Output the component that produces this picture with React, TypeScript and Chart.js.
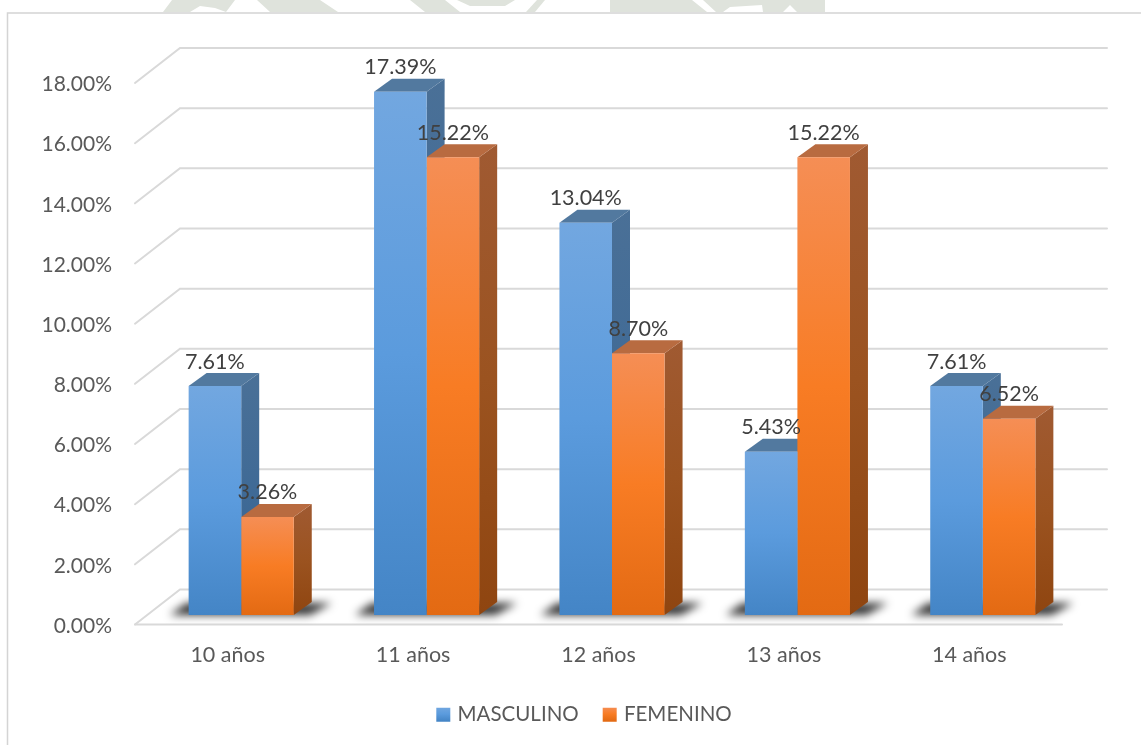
import React, { useEffect, useRef } from "react";
import { Chart, registerables } from "chart.js";

Chart.register(...registerables);

const categories = ["10 años", "11 años", "12 años", "13 años", "14 años"];
const masculino = [7.61, 17.39, 13.04, 5.43, 7.61];
const femenino = [3.26, 15.22, 8.7, 15.22, 6.52];

const FONT = "Lato, Carlito, Calibri, sans-serif";
const BAR_DX = 13.5;
const BAR_DY = -9.5;
const DEPTH_X = 18;
const DEPTH_Y = 13;
const WALL_X = 45;
const WALL_Y = 35;
const LEGEND_SHIFT = 39.5;

const frontStops: Record<string, string[]> = {
  blue: ["#72A7E0", "#5B9BDD", "#4485C6"],
  orange: ["#F58E55", "#F87C24", "#E36A13"],
};
const sideStops: Record<string, string[]> = {
  blue: ["#4A7097", "#3F6A96", "#31608F"],
  orange: ["#A05A32", "#9B5320", "#8F4510"],
};
const topColor: Record<string, string> = { blue: "#52799F", orange: "#B86B40" };

// faint scan watermark visible above the chart frame
const watermark: number[][][] = [
  [[163, 12], [172, 0], [235, 0], [226, 12], [215, 8], [200, 6], [190, 12]],
  [[257, 0], [320, 0], [338, 12], [270, 12]],
  [[410, 0], [445, 0], [460, 12], [425, 12]],
  [[457, 0], [500, 0], [515, 0], [505, 6], [470, 6]],
  [[526, 12], [537, 0], [545, 0], [535, 12]],
  [[610, 0], [692, 0], [707, 12], [610, 12]],
  [[703, 0], [825, 0], [825, 12], [797, 12], [790, 5], [783, 12], [763, 12], [762, 5], [730, 7], [723, 12], [716, 12]],
];

function grad(ctx: CanvasRenderingContext2D, y0: number, y1: number, stops: string[]) {
  const g = ctx.createLinearGradient(0, y0, 0, y1);
  g.addColorStop(0, stops[0]);
  g.addColorStop(0.5, stops[1]);
  g.addColorStop(1, stops[2]);
  return g;
}

const scene3d = {
  id: "scene3d",
  afterLayout(chart: any) {
    if (chart.legend) {
      chart.legend.left += LEGEND_SHIFT;
      chart.legend.right += LEGEND_SHIFT;
    }
  },
  beforeDatasetsDraw(chart: any) {
    const { ctx, chartArea, scales } = chart;
    const { left, right, bottom } = chartArea;
    const y = scales.y;
    ctx.save();
    ctx.strokeStyle = "#D9D9D9";
    ctx.lineWidth = 2;
    ctx.lineCap = "round";
    y.ticks.forEach((t: any) => {
      const py = y.getPixelForValue(t.value);
      ctx.beginPath();
      ctx.moveTo(left, py);
      ctx.lineTo(left + WALL_X, py - WALL_Y);
      ctx.lineTo(right + WALL_X, py - WALL_Y);
      ctx.stroke();
    });
    ctx.beginPath();
    ctx.moveTo(left, bottom);
    ctx.lineTo(right, bottom);
    ctx.stroke();
    ctx.restore();

    // floor shadows
    const m0 = chart.getDatasetMeta(0).data;
    const m1 = chart.getDatasetMeta(1).data;
    ctx.save();
    ctx.filter = "blur(4px)";
    ctx.fillStyle = "rgba(0,0,0,0.8)";
    const floor = bottom + BAR_DY;
    m0.forEach((b: any, i: number) => {
      const x0 = b.x - b.width / 2 + BAR_DX;
      const b1 = m1[i];
      const x1 = b1.x + b1.width / 2 + BAR_DX;
      ctx.beginPath();
      ctx.moveTo(x0 - 19, floor);
      ctx.lineTo(x0 - 2, floor - 12);
      ctx.lineTo(x1 + 38, floor - 12);
      ctx.lineTo(x1 + 16, floor);
      ctx.closePath();
      ctx.fill();
    });
    ctx.restore();

    // side and top faces
    ctx.save();
    ctx.translate(BAR_DX, BAR_DY);
    [
      { meta: m0, key: "blue" },
      { meta: m1, key: "orange" },
    ].forEach(({ meta, key }) => {
      meta.forEach((b: any) => {
        const l = b.x - b.width / 2;
        const r = b.x + b.width / 2;
        const t = b.y;
        const base = b.base;
        ctx.fillStyle = grad(ctx, t - DEPTH_Y, base, sideStops[key]);
        ctx.beginPath();
        ctx.moveTo(r, t);
        ctx.lineTo(r + DEPTH_X, t - DEPTH_Y);
        ctx.lineTo(r + DEPTH_X, base - DEPTH_Y);
        ctx.lineTo(r, base);
        ctx.closePath();
        ctx.fill();
        ctx.fillStyle = topColor[key];
        ctx.beginPath();
        ctx.moveTo(l, t);
        ctx.lineTo(l + DEPTH_X, t - DEPTH_Y);
        ctx.lineTo(r + DEPTH_X, t - DEPTH_Y);
        ctx.lineTo(r, t);
        ctx.closePath();
        ctx.fill();
      });
    });
    ctx.restore();
    ctx.save();
    ctx.translate(BAR_DX, BAR_DY);
  },
  afterDatasetsDraw(chart: any) {
    const { ctx } = chart;
    ctx.restore();
    ctx.save();
    ctx.font = `21.5px ${FONT}`;
    ctx.fillStyle = "#404040";
    ctx.textAlign = "center";
    ctx.textBaseline = "middle";
    chart.data.datasets.forEach((ds: any, di: number) => {
      chart.getDatasetMeta(di).data.forEach((b: any, i: number) => {
        ctx.fillText(`${ds.data[i].toFixed(2)}%`, b.x + BAR_DX, b.y + BAR_DY - 24.5);
      });
    });
    ctx.restore();
  },
};

const frame = {
  id: "frame",
  beforeDraw(chart: any) {
    const { ctx } = chart;
    ctx.save();
    ctx.fillStyle = "#DFE3DC";
    watermark.forEach((poly) => {
      ctx.beginPath();
      poly.forEach(([x, y], i) => (i ? ctx.lineTo(x, y) : ctx.moveTo(x, y)));
      ctx.closePath();
      ctx.fill();
    });
    ctx.strokeStyle = "#D4D4D4";
    ctx.lineWidth = 1.5;
    ctx.beginPath();
    ctx.moveTo(7.5, 745);
    ctx.lineTo(7.5, 13);
    ctx.lineTo(1141, 13);
    ctx.stroke();
    ctx.restore();
  },
};

export default function App() {
  const ref = useRef<HTMLCanvasElement>(null);
  useEffect(() => {
    document.body.style.margin = "0";
    const canvas = ref.current!;
    const ctx2 = canvas.getContext("2d")!;
    const barFill = (key: string) => (c: any) => {
      const ys = c.chart.scales.y;
      if (!ys || c.dataIndex === undefined || c.parsed === undefined) return frontStops[key][1];
      const v = c.parsed.y;
      return grad(ctx2, ys.getPixelForValue(v), ys.getPixelForValue(0), frontStops[key]);
    };
    const chart = new Chart(canvas, {
      type: "bar",
      data: {
        labels: categories,
        datasets: [
          { label: "MASCULINO", data: masculino, backgroundColor: barFill("blue"), borderWidth: 0 },
          { label: "FEMENINO", data: femenino, backgroundColor: barFill("orange"), borderWidth: 0 },
        ],
      },
      plugins: [frame, scene3d],
      options: {
        responsive: false,
        animation: false,
        devicePixelRatio: 1,
        layout: { padding: { left: 30, top: 83, right: 79, bottom: 10 } },
        datasets: { bar: { categoryPercentage: 0.567, barPercentage: 1 } },
        scales: {
          x: {
            grid: { display: false, drawTicks: false },
            border: { display: false },
            ticks: { color: "#595959", font: { family: FONT, size: 21.5 }, padding: 18, maxRotation: 0 },
            afterFit: (s: any) => {
              s.height = 53;
            },
          },
          y: {
            min: 0,
            max: 18,
            grid: { display: false, drawTicks: false },
            border: { display: false },
            ticks: {
              stepSize: 2,
              color: "#595959",
              font: { family: FONT, size: 21 },
              padding: 23,
              labelOffset: 1.5,
              callback: (v: any) => `${Number(v).toFixed(2)}%`,
            },
            afterFit: (s: any) => {
              s.width = 105;
            },
          },
        },
        plugins: {
          tooltip: { enabled: false },
          legend: {
            position: "bottom",
            labels: {
              color: "#595959",
              font: { family: FONT, size: 20.5 },
              boxWidth: 8,
              boxHeight: 8,
              padding: 27,
              generateLabels: (ch: any) =>
                ch.data.datasets.map((d: any, i: number) => {
                  const key = i === 0 ? "blue" : "orange";
                  const g = grad(ctx2, 707, 721, frontStops[key]);
                  return {
                    text: d.label,
                    fillStyle: g,
                    strokeStyle: g,
                    lineWidth: 6,
                    fontColor: "#595959",
                    datasetIndex: i,
                    hidden: false,
                  };
                }),
            },
          },
        },
      },
    } as any);
    return () => chart.destroy();
  }, []);
  return (
    <div style={{ position: "absolute", left: 0, top: 0, width: 1141, height: 745, background: "#fff" }}>
      <canvas ref={ref} width={1141} height={745} style={{ display: "block", filter: "blur(0.4px)" }} />
    </div>
  );
}
